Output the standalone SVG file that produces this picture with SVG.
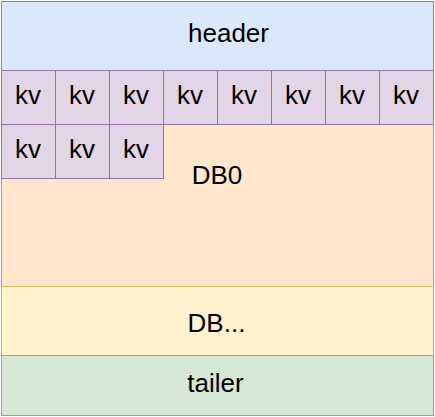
<svg xmlns="http://www.w3.org/2000/svg" width="435" height="417" viewBox="0 0 435 417">
<style>
text{font-family:"Liberation Sans",Arial,sans-serif;font-size:26px;fill:#000;text-anchor:middle}
.kv rect{fill:#e1d5e7;stroke:#9673a6;stroke-width:1}
</style>
<rect width="435" height="417" fill="#fff"/>
<g id="db0"><rect x="1.5" y="70.5" width="432" height="216" fill="#ffe6cc" stroke="#d79b00"/><text x="217" y="184">DB0</text></g>
<g id="dbmore"><rect x="1.5" y="286.5" width="432" height="69" fill="#fff2cc" stroke="#d6b656"/><text x="216.5" y="332">DB...</text></g>
<g id="tailer"><rect x="1.5" y="355.5" width="432" height="60" fill="#d5e8d4" stroke="#82b366"/><text x="215.5" y="392">tailer</text></g>
<g id="header"><rect x="1.5" y="1.5" width="432" height="69" fill="#dae8fc" stroke="#6c8ebf"/><text x="228.5" y="42">header</text></g>
<g class="kv">
<g id="kv1"><rect x="1.5" y="70.5" width="54" height="54"/><text x="28" y="104">kv</text></g>
<g id="kv2"><rect x="55.5" y="70.5" width="54" height="54"/><text x="82" y="104">kv</text></g>
<g id="kv3"><rect x="109.5" y="70.5" width="54" height="54"/><text x="136" y="104">kv</text></g>
<g id="kv4"><rect x="163.5" y="70.5" width="54" height="54"/><text x="190" y="104">kv</text></g>
<g id="kv5"><rect x="217.5" y="70.5" width="54" height="54"/><text x="244" y="104">kv</text></g>
<g id="kv6"><rect x="271.5" y="70.5" width="54" height="54"/><text x="298" y="104">kv</text></g>
<g id="kv7"><rect x="325.5" y="70.5" width="54" height="54"/><text x="352" y="104">kv</text></g>
<g id="kv8"><rect x="379.5" y="70.5" width="54" height="54"/><text x="406" y="104">kv</text></g>
<g id="kv9"><rect x="1.5" y="124.5" width="54" height="54"/><text x="28" y="158">kv</text></g>
<g id="kv10"><rect x="55.5" y="124.5" width="54" height="54"/><text x="82" y="158">kv</text></g>
<g id="kv11"><rect x="109.5" y="124.5" width="54" height="54"/><text x="136" y="158">kv</text></g>
</g>
<g id="connectors"/>
</svg>
